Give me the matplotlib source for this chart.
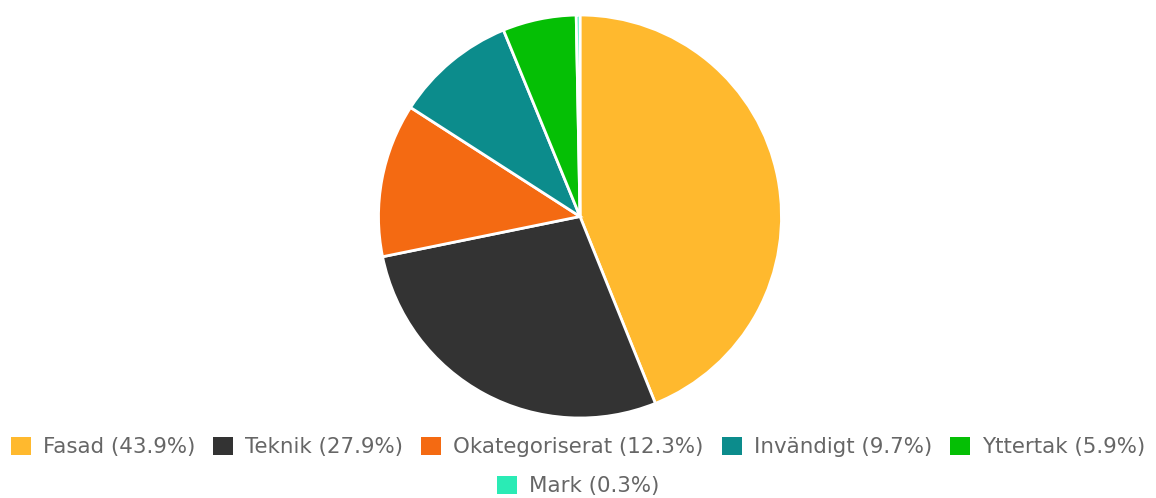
import matplotlib.pyplot as plt
from matplotlib.patches import Patch

plt.rcParams['font.family'] = ['DejaVu Sans']

# data
labels = ['Fasad', 'Teknik', 'Okategoriserat', 'Invändigt', 'Yttertak', 'Mark']
shares = [43.9, 27.9, 12.3, 9.7, 5.9, 0.3]
colors = ['#FFB92E', '#333333', '#F46A12', '#0C8C8C', '#05BF05', '#2AEBB5']

W, H = 1156, 498
fig = plt.figure(figsize=(W / 100, H / 100), dpi=100)

# pie axes placed so the pie centre is at (580, 216) px, radius ~201 px
cx, cy, r = 580, 216.5, 201.5
ax = fig.add_axes([(cx - r) / W, (H - cy - r) / H, 2 * r / W, 2 * r / H])
ax.pie(shares, colors=colors, startangle=90, counterclock=False,
       radius=1, wedgeprops=dict(edgecolor='white', linewidth=2))
ax.set_xlim(-1, 1)
ax.set_ylim(-1, 1)
ax.set_aspect('equal')
ax.axis('off')

# legend, two rows, centered
handles = [Patch(facecolor=c, edgecolor='none') for c in colors]
texts = [f'{l} ({s}%)' for l, s in zip(labels, shares)]

fs = 15.4
px = fs * 100 / 72
leg_kw = dict(frameon=False, fontsize=fs, handlelength=20 / px, handleheight=20 / px,
              handletextpad=12 / px, columnspacing=18 / px, labelcolor='#666666',
              loc='center', borderaxespad=0, borderpad=0)
fig.legend(handles[:5], texts[:5], ncol=5,
           bbox_to_anchor=(0.5, 1 - 447 / H), **leg_kw)
fig.legend(handles[5:], texts[5:], ncol=1,
           bbox_to_anchor=(0.5, 1 - 486 / H), **leg_kw)

fig.savefig('out.png', dpi=100)
